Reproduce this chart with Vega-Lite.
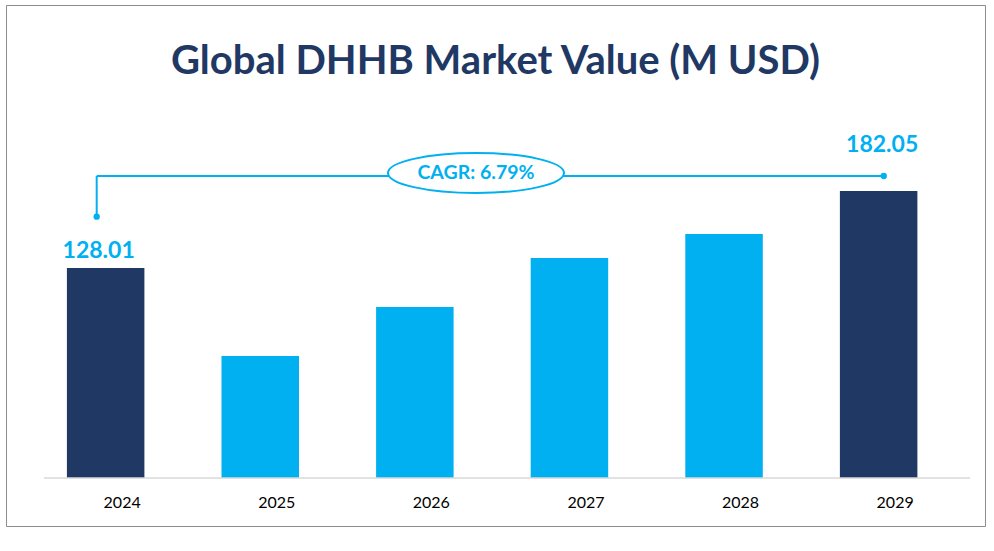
{
  "$schema": "https://vega.github.io/schema/vega-lite/v6.json",
  "width": 979,
  "height": 521,
  "autosize": "none",
  "padding": {"left": 6, "top": 5, "right": 9, "bottom": 25},
  "background": "white",
  "config": {
    "view": {"stroke": "#8C8C8C", "strokeWidth": 1},
    "font": "Lato"
  },
  "title": {
    "text": "Global DHHB Market Value (M USD)",
    "font": "Lato",
    "fontSize": 40,
    "fontWeight": "bold",
    "color": "#1F3864",
    "anchor": "middle",
    "offset": -109,
    "baseline": "alphabetic"
  },
  "data": {
    "values": [
      {"year": 2024, "value": 128.01},
      {"year": 2025, "value": 66.25},
      {"year": 2026, "value": 100.64},
      {"year": 2027, "value": 135.03},
      {"year": 2028, "value": 151.87},
      {"year": 2029, "value": 182.05}
    ]
  },
  "encoding": {
    "x": {
      "field": "year",
      "type": "quantitative",
      "scale": {"domain": [2023.3554, 2029.688], "nice": false, "zero": false, "padding": 0},
      "axis": {
        "title": null,
        "values": [2024, 2025, 2026, 2027, 2028, 2029],
        "format": "d",
        "grid": false,
        "ticks": false,
        "domain": false,
        "offset": -48,
        "labelPadding": 16,
        "labelOffset": 16,
        "labelFont": "Lato",
        "labelFontSize": 16,
        "labelColor": "#000000"
      }
    },
    "y": {
      "field": "value",
      "type": "quantitative",
      "scale": {"domain": [-53.06, 312.59], "nice": false, "zero": false, "padding": 0},
      "axis": null
    }
  },
  "layer": [
    {
      "mark": {"type": "bar", "size": 77.5},
      "encoding": {
        "y2": {"datum": -19.37},
        "color": {
          "condition": {"test": "datum.year == 2024 || datum.year == 2029", "value": "#1F3864"},
          "value": "#00B0F0"
        }
      }
    },
    {
      "transform": [{"filter": "datum.year == 2024"}],
      "mark": {"type": "rule", "color": "#D9D9D9", "strokeWidth": 1.5},
      "encoding": {
        "x": {"datum": 2023.601, "type": "quantitative"},
        "x2": {"datum": 2029.591},
        "y": {"datum": -19.37, "type": "quantitative"}
      }
    },
    {
      "transform": [{"filter": "datum.year == 2024"}],
      "mark": {"type": "rule", "color": "#00B0F0", "strokeWidth": 2},
      "encoding": {
        "x": {"datum": 2023.942, "type": "quantitative"},
        "y": {"datum": 164.02, "type": "quantitative"},
        "y2": {"datum": 192.58}
      }
    },
    {
      "transform": [{"filter": "datum.year == 2024"}],
      "mark": {"type": "rule", "color": "#00B0F0", "strokeWidth": 2},
      "encoding": {
        "x": {"datum": 2023.942, "type": "quantitative"},
        "x2": {"datum": 2029.033},
        "y": {"datum": 192.58, "type": "quantitative"}
      }
    },
    {
      "transform": [{"filter": "datum.year == 2024"}],
      "mark": {"type": "point", "filled": true, "color": "#00B0F0", "size": 40, "opacity": 1},
      "encoding": {
        "x": {"datum": 2023.942, "type": "quantitative"},
        "y": {"datum": 164.02, "type": "quantitative"}
      }
    },
    {
      "transform": [{"filter": "datum.year == 2024"}],
      "mark": {"type": "point", "filled": true, "color": "#00B0F0", "size": 40, "opacity": 1},
      "encoding": {
        "x": {"datum": 2029.033, "type": "quantitative"},
        "y": {"datum": 192.58, "type": "quantitative"}
      }
    },
    {
      "transform": [{"filter": "datum.year == 2024"}],
      "mark": {
        "type": "point",
        "shape": "M -1 0 C -1 -0.1254 -0.5523 -0.227 0 -0.227 C 0.5523 -0.227 1 -0.1254 1 0 C 1 0.1254 0.5523 0.227 0 0.227 C -0.5523 0.227 -1 0.1254 -1 0 Z",
        "size": 30976,
        "filled": false,
        "fill": "white",
        "fillOpacity": 1,
        "stroke": "#00B0F0",
        "strokeWidth": 2,
        "opacity": 1
      },
      "encoding": {
        "x": {"datum": 2026.3955, "type": "quantitative"},
        "y": {"datum": 194.69, "type": "quantitative"}
      }
    },
    {
      "transform": [{"filter": "datum.year == 2024"}],
      "mark": {
        "type": "text",
        "text": "CAGR: 6.79%",
        "font": "Lato",
        "fontSize": 19.5,
        "fontWeight": "bold",
        "color": "#00B0F0",
        "align": "center",
        "baseline": "middle"
      },
      "encoding": {
        "x": {"datum": 2026.3955, "type": "quantitative"},
        "y": {"datum": 194.69, "type": "quantitative"}
      }
    },
    {
      "transform": [{"filter": "datum.year == 2024"}],
      "mark": {
        "type": "text",
        "font": "Lato",
        "fontSize": 23,
        "fontWeight": "bold",
        "color": "#00B0F0",
        "align": "center",
        "baseline": "middle",
        "dx": -7
      },
      "encoding": {
        "y": {"datum": 139.73, "type": "quantitative"},
        "text": {"field": "value", "type": "quantitative", "format": ".2f"}
      }
    },
    {
      "transform": [{"filter": "datum.year == 2029"}],
      "mark": {
        "type": "text",
        "font": "Lato",
        "fontSize": 23,
        "fontWeight": "bold",
        "color": "#00B0F0",
        "align": "center",
        "baseline": "middle",
        "dx": 3.5
      },
      "encoding": {
        "y": {"datum": 214.13, "type": "quantitative"},
        "text": {"field": "value", "type": "quantitative", "format": ".2f"}
      }
    }
  ]
}
